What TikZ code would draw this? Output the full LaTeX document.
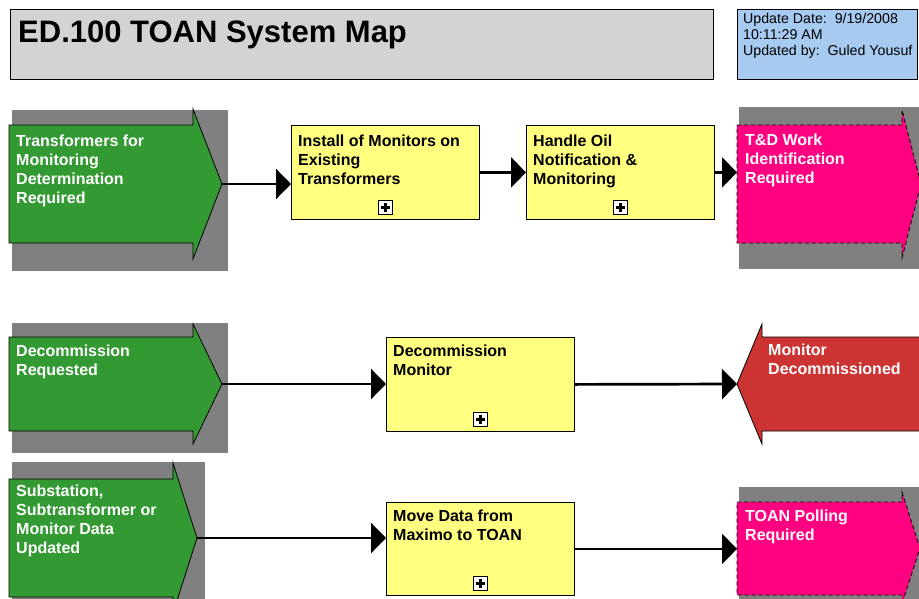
\documentclass[tikz,border=0pt]{standalone}
\usepackage{fontspec}
\setmainfont{Liberation Sans}
\usetikzlibrary{arrows.meta,positioning}

\definecolor{mapgreen}{RGB}{51,153,51}
\definecolor{mappink}{RGB}{255,0,128}
\definecolor{mapred}{RGB}{204,51,51}
\definecolor{mapyellow}{RGB}{255,255,128}
\definecolor{mapshadow}{RGB}{128,128,128}
\definecolor{titlegray}{RGB}{211,211,211}
\definecolor{infoblue}{RGB}{166,202,240}

\tikzset{
  eventline/.style={draw=black, line width=0.8pt},
  pinkline/.style={draw=black, line width=0.8pt, dash pattern=on 4pt off 3pt},
  taskbox/.style={draw=black, line width=0.8pt, fill=mapyellow, anchor=north west,
    minimum width=187.5pt, minimum height=94pt, inner sep=0pt},
  plusbox/.style={draw=black, fill=white, line width=0.8pt, minimum size=14pt, inner sep=0pt},
  plusmark/.style={line width=3pt},
  eventtext/.style={anchor=north west, align=left, inner sep=0pt, text=white,
    font=\bfseries\fontsize{16}{19}\selectfont},
  tasktext/.style={eventtext, text=black},
  flowline/.style={line width=2.7pt, -{Triangle[length=15pt,width=30pt]}},
}

\begin{document}
\begin{tikzpicture}[x=1pt,y=-1pt]
\useasboundingbox (0,0) rectangle (919,598);
\clip (0,0) rectangle (919,598);

% title and update boxes
\draw[fill=titlegray, line width=0.8pt] (10,9) rectangle (713,79);
\node[anchor=base west, inner sep=0pt, font=\bfseries\fontsize{31}{36}\selectfont] (title) at (18,42) {ED.100 TOAN System Map};
\draw[fill=infoblue, line width=0.8pt] (737,9) rectangle (917,79);
\node[anchor=north west, align=left, inner sep=0pt, font=\fontsize{14.2}{16}\selectfont] (update) at (743,13.5)
  {Update Date:\ \ 9/19/2008\\10:11:29 AM\\Updated by:\ \ Guled Yousuf};

% start events (green) on their grey shadows
\foreach \n/\bt/\bb/\hx/\tx/\he/\sr/\st/\sb in
{ 1/125/243/193/222/75/228/110/271,
  2/337/431/193/222/60/228/323/453,
  3/479/597/173/197/75/205/462/620 }
{
  \pgfmathsetmacro{\ym}{(\bt+\bb)/2}
  \fill[mapshadow] (12,\st) rectangle (\sr,\sb);
  \draw[eventline, fill=mapgreen] (9,\bt) -- (\hx,\bt) -- (\hx,\ym-\he) -- (\tx,\ym)
    -- (\hx,\ym+\he) -- (\hx,\bb) -- (9,\bb) -- cycle;
  \coordinate (start\n) at (\tx,\ym);
}

% end events
\fill[mapshadow] (739,107) rectangle (930,269);
\draw[pinkline, fill=mappink] (737,125) -- (902,125) -- (902,110) -- (921,184)
  -- (902,258) -- (902,243) -- (737,243) -- cycle;
\coordinate (endA) at (737,184);

\draw[eventline, fill=mapred] (940,337) -- (762,337) -- (762,324) -- (737,384)
  -- (762,444) -- (762,431) -- (940,431);
\coordinate (endB) at (737,384);

\fill[mapshadow] (739,487) rectangle (930,620);
\draw[pinkline, fill=mappink] (737,502) -- (902,502) -- (902,492) -- (920,548)
  -- (902,604) -- (902,595) -- (737,595) -- cycle;
\coordinate (endC) at (737,548);

% tasks
\node[taskbox] (install) at (291,125) {};
\node[taskbox] (handle) at (526,125) {};
\node[taskbox] (decommission) at (386,337) {};
\node[taskbox, minimum height=93pt] (movedata) at (386,502) {};

% expand marks
\foreach \t in {install,handle,decommission,movedata}
{
  \node[plusbox] (\t-plus) at ([yshift=12pt]\t.south) {};
  \draw[plusmark] (\t-plus.center) +(-4.5,0) -- +(4.5,0)
    (\t-plus.center) +(0,-4.5) -- +(0,4.5);
}

% labels
\node[eventtext] (lbl1) at (16,135) {Transformers for\\Monitoring\\Determination\\Required};
\node[eventtext] (lbl2) at (16,345) {Decommission\\Requested};
\node[eventtext] (lbl3) at (16,485) {Substation,\\Subtransformer or\\Monitor Data\\Updated};
\node[tasktext] at ([shift={(7,10)}]install.north west) {Install of Monitors on\\Existing\\Transformers};
\node[tasktext] at ([shift={(7,10)}]handle.north west) {Handle Oil\\Notification \&\\Monitoring};
\node[tasktext] at ([shift={(7,8)}]decommission.north west) {Decommission\\Monitor};
\node[tasktext] at ([shift={(7,8)}]movedata.north west) {Move Data from\\Maximo to TOAN};
\node[eventtext] (lblA) at (745,134) {T\&D Work\\Identification\\Required};
\node[eventtext] (lblB) at (768,344) {Monitor\\Decommissioned};
\node[eventtext] (lblC) at (745,510) {TOAN Polling\\Required};

% flow
\draw[flowline] (start1) -- (start1 -| install.west);
\draw[flowline] (install.east) -- (handle.west);
\draw[flowline] (handle.east) -- (handle.east -| endA);
\draw[flowline] (start2) -- (start2 -| decommission.west);
\draw[flowline] (decommission.east) -- (endB);
\draw[flowline] (start3) -- (start3 -| movedata.west);
\draw[flowline] (movedata.east) -- (movedata.east -| endC);
\end{tikzpicture}
\end{document}
